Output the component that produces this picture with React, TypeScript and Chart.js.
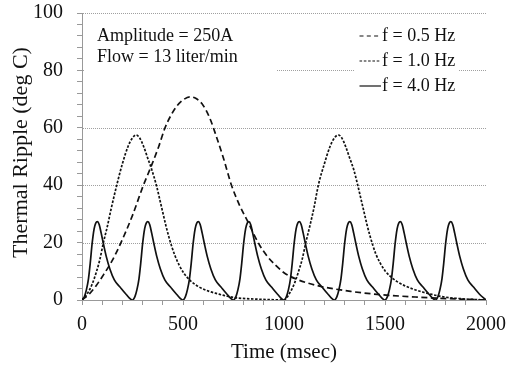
import React, { useEffect, useRef } from 'react';
import { Chart, registerables } from 'chart.js';

Chart.register(...registerables);

// ---------- data ----------
const time05Hz = [0, 40, 70, 101, 150, 193, 250, 304, 342, 380, 411, 440, 470, 500, 535, 565, 600, 633, 665, 700, 740, 780, 823, 850, 880, 920, 960, 1000, 1060, 1160, 1330, 1490, 1660, 1820, 2000];
const ripple05Hz = [0, 2.4, 5, 8.2, 13.8, 20, 29.5, 40, 46.5, 53.5, 60, 64.3, 67.6, 69.7, 70.8, 70.2, 67.8, 63.3, 57, 49.5, 40, 33, 27, 23, 19, 15, 12, 9.5, 7.3, 5.1, 3.0, 1.8, 1.0, 0.45, 0];

const time10Hz = [0, 28, 50, 70, 88, 106, 125, 145, 172, 200, 228, 250, 268, 285, 305, 325, 345, 370, 385, 400, 415, 430, 445, 460, 480, 505, 540, 583, 630, 670, 720, 770, 850, 930,
  1000, 1028, 1050, 1070, 1090, 1108, 1128, 1148, 1170, 1200, 1228, 1250, 1269, 1286, 1305, 1325, 1345, 1365, 1380, 1395, 1410, 1425, 1440, 1455, 1475, 1500, 1525, 1560, 1600, 1640, 1690, 1723, 1780, 1850, 1920, 2000];
const ripple10Hz = [0, 2.4, 5.5, 9.5, 14, 20, 25.5, 32, 40, 47.5, 53.5, 56.5, 57.5, 56.5, 53.5, 49.5, 45.5, 39.5, 35, 30.5, 26, 22, 18.5, 15.5, 12.3, 9.3, 6.5, 4.4, 3.0, 2.2, 1.3, 0.7, 0.35, 0.12,
  0, 2.4, 5.5, 9.5, 14.2, 20, 25.8, 32, 40, 47.5, 53.5, 56.5, 57.5, 56.5, 53.5, 49.5, 45.5, 40, 35.5, 31, 26.5, 22.5, 19, 16, 13, 10.2, 8.3, 6.4, 4.9, 3.8, 2.7, 2.1, 1.2, 0.6, 0.25, 0];

const time40Hz = [
  0, 12, 22, 32, 41, 50, 60, 68, 76, 85, 95, 106, 120, 138, 160, 188, 218,
  250, 262, 272, 282, 291, 300, 310, 318, 326, 335, 345, 356, 370, 388, 410, 438, 468,
  500, 512, 522, 532, 541, 550, 560, 568, 576, 585, 595, 606, 620, 638, 660, 688, 718,
  750, 762, 772, 782, 791, 800, 810, 818, 826, 835, 845, 856, 870, 888, 910, 938, 968,
  1000, 1012, 1022, 1032, 1041, 1050, 1060, 1068, 1076, 1085, 1095, 1106, 1120, 1138, 1160, 1188, 1218,
  1250, 1262, 1272, 1282, 1291, 1300, 1310, 1318, 1326, 1335, 1345, 1356, 1370, 1388, 1410, 1438, 1468,
  1500, 1512, 1522, 1532, 1541, 1550, 1560, 1568, 1576, 1585, 1595, 1606, 1620, 1638, 1660, 1688, 1718,
  1750, 1762, 1772, 1782, 1791, 1800, 1810, 1818, 1826, 1835, 1845, 1856, 1870, 1888, 1910, 1938, 1968,
  2000,
];
const ripple40Hz = [
  0, 1.2, 3.6, 7.4, 13, 19.6, 24.8, 26.8, 27.3, 26.3, 23.3, 19.6, 15.2, 10.8, 7.0, 4.5, 2.0,
  0, 1.2, 3.6, 7.4, 13, 19.6, 24.8, 26.8, 27.3, 26.3, 23.3, 19.6, 15.2, 10.8, 7.0, 4.5, 2.0,
  0, 1.2, 3.6, 7.4, 13, 19.6, 24.8, 26.8, 27.3, 26.3, 23.3, 19.6, 15.2, 10.8, 7.0, 4.5, 2.0,
  0, 1.2, 3.6, 7.4, 13, 19.6, 24.8, 26.8, 27.3, 26.3, 23.3, 19.6, 15.2, 10.8, 7.0, 4.5, 2.0,
  0, 1.2, 3.6, 7.4, 13, 19.6, 24.8, 26.8, 27.3, 26.3, 23.3, 19.6, 15.2, 10.8, 7.0, 4.5, 2.0,
  0, 1.2, 3.6, 7.4, 13, 19.6, 24.8, 26.8, 27.3, 26.3, 23.3, 19.6, 15.2, 10.8, 7.0, 4.5, 2.0,
  0, 1.2, 3.6, 7.4, 13, 19.6, 24.8, 26.8, 27.3, 26.3, 23.3, 19.6, 15.2, 10.8, 7.0, 4.5, 2.0,
  0, 1.2, 3.6, 7.4, 13, 19.6, 24.8, 26.8, 27.3, 26.3, 23.3, 19.6, 15.2, 10.8, 7.0, 4.5, 2.0,
  0,
];

const seriesLabels = ['f = 0.5 Hz', 'f = 1.0 Hz', 'f = 4.0 Hz'];
const annotationLines = ['Amplitude = 250A', 'Flow = 13 liter/min'];
const gridValues = [20, 40, 60, 80, 100];
const xTitle = 'Time (msec)';
const yTitle = 'Thermal Ripple (deg C)';

// ---------- styling ----------
const FONT = '"Liberation Serif", "Times New Roman", serif';
const INK = '#111111';
const AXIS = '#999999';
const dashes = [[6, 3.5], [2.5, 1.6], []];
const legendDashes = [[4, 3.3], [2.6, 1.7], []];

const zip = (t: number[], v: number[]) => t.map((x, i) => ({ x, y: v[i] }));

const decorPlugin = {
  id: 'decor',
  beforeDatasetsDraw(chart: any) {
    const { ctx, chartArea, scales } = chart;
    ctx.save();
    ctx.strokeStyle = '#a0a0a0';
    ctx.lineWidth = 1;
    ctx.setLineDash([1, 1]);
    for (const v of gridValues) {
      const y = Math.round(scales.y.getPixelForValue(v)) + 0.5;
      ctx.beginPath();
      ctx.moveTo(chartArea.left + 1, y);
      ctx.lineTo(chartArea.right, y);
      ctx.stroke();
    }
    ctx.setLineDash([]);
    ctx.fillStyle = '#ffffff';
    ctx.fillRect(chartArea.left + 2, 22, 277 - chartArea.left - 2, 52);
    ctx.fillRect(355, 22, 104, 74);
    ctx.restore();
  },
  afterDraw(chart: any) {
    const { ctx } = chart;
    ctx.save();
    ctx.fillStyle = INK;
    ctx.strokeStyle = INK;
    ctx.textAlign = 'left';
    ctx.textBaseline = 'alphabetic';
    ctx.font = `18px ${FONT}`;
    annotationLines.forEach((s, i) => ctx.fillText(s, 97, 40.7 + 21.3 * i));

    seriesLabels.forEach((s, i) => {
      const base = 40.5 + 25 * i;
      ctx.lineWidth = 1.2;
      ctx.setLineDash(legendDashes[i]);
      ctx.beginPath();
      ctx.moveTo(359.5, base - 4.5);
      ctx.lineTo(381, base - 4.5);
      ctx.stroke();
      ctx.setLineDash([]);
      ctx.fillText(s, 382, base);
    });

    ctx.textAlign = 'center';
    ctx.font = `21px ${FONT}`;
    ctx.fillText(xTitle, 284, 358);

    ctx.font = `22px ${FONT}`;
    ctx.translate(26.5, 152.5);
    ctx.rotate(-Math.PI / 2);
    ctx.fillText(yTitle, 0, 0);
    ctx.restore();
  },
};

const noScalePadding = (s: any) => {
  s.paddingTop = 0;
  s.paddingBottom = 0;
  s.paddingLeft = 0;
  s.paddingRight = 0;
};

export default function App() {
  const canvasRef = useRef<HTMLCanvasElement | null>(null);

  useEffect(() => {
    if (!canvasRef.current) return;
    const mk = (label: string, t: number[], v: number[], i: number) => ({
      label,
      data: zip(t, v),
      borderColor: INK,
      borderWidth: 1.7,
      borderDash: dashes[i],
      pointRadius: 0,
      fill: false,
      cubicInterpolationMode: 'monotone' as const,
    });
    const chart = new Chart(canvasRef.current, {
      type: 'line',
      data: {
        datasets: [
          mk(seriesLabels[0], time05Hz, ripple05Hz, 0),
          mk(seriesLabels[1], time10Hz, ripple10Hz, 1),
          mk(seriesLabels[2], time40Hz, ripple40Hz, 2),
        ],
      },
      options: {
        responsive: false,
        animation: false,
        events: [],
        layout: { padding: { top: 13, right: 22, bottom: 0, left: 0 } },
        plugins: { legend: { display: false }, tooltip: { enabled: false }, title: { display: false } },
        scales: {
          x: {
            type: 'linear',
            min: 0,
            max: 2000,
            ticks: {
              stepSize: 100,
              autoSkip: false,
              maxRotation: 0,
              padding: 8,
              color: INK,
              font: { family: FONT, size: 20 },
              callback: (v: any) => (Number(v) % 500 === 0 ? String(v) : ''),
            },
            grid: { drawOnChartArea: false, drawTicks: true, tickLength: 5, tickColor: AXIS, tickWidth: 1 },
            border: { display: true, color: AXIS, width: 1 },
            afterFit: (s: any) => { s.height = 71; noScalePadding(s); },
          },
          y: {
            min: 0,
            max: 100,
            ticks: {
              stepSize: 4,
              autoSkip: false,
              padding: 14,
              color: INK,
              font: { family: FONT, size: 20 },
              callback: (v: any) => (Number(v) % 20 === 0 ? String(v) : ''),
            },
            grid: { drawOnChartArea: false, drawTicks: true, tickLength: 5, tickColor: AXIS, tickWidth: 1 },
            border: { display: true, color: AXIS, width: 1 },
            afterFit: (s: any) => { s.width = 82; noScalePadding(s); },
          },
        },
      },
      plugins: [decorPlugin],
    });
    return () => chart.destroy();
  }, []);

  return (
    <div style={{ position: 'fixed', left: 0, top: 0, width: 508, height: 371, background: '#fff' }}>
      <canvas ref={canvasRef} width={508} height={371} />
    </div>
  );
}
